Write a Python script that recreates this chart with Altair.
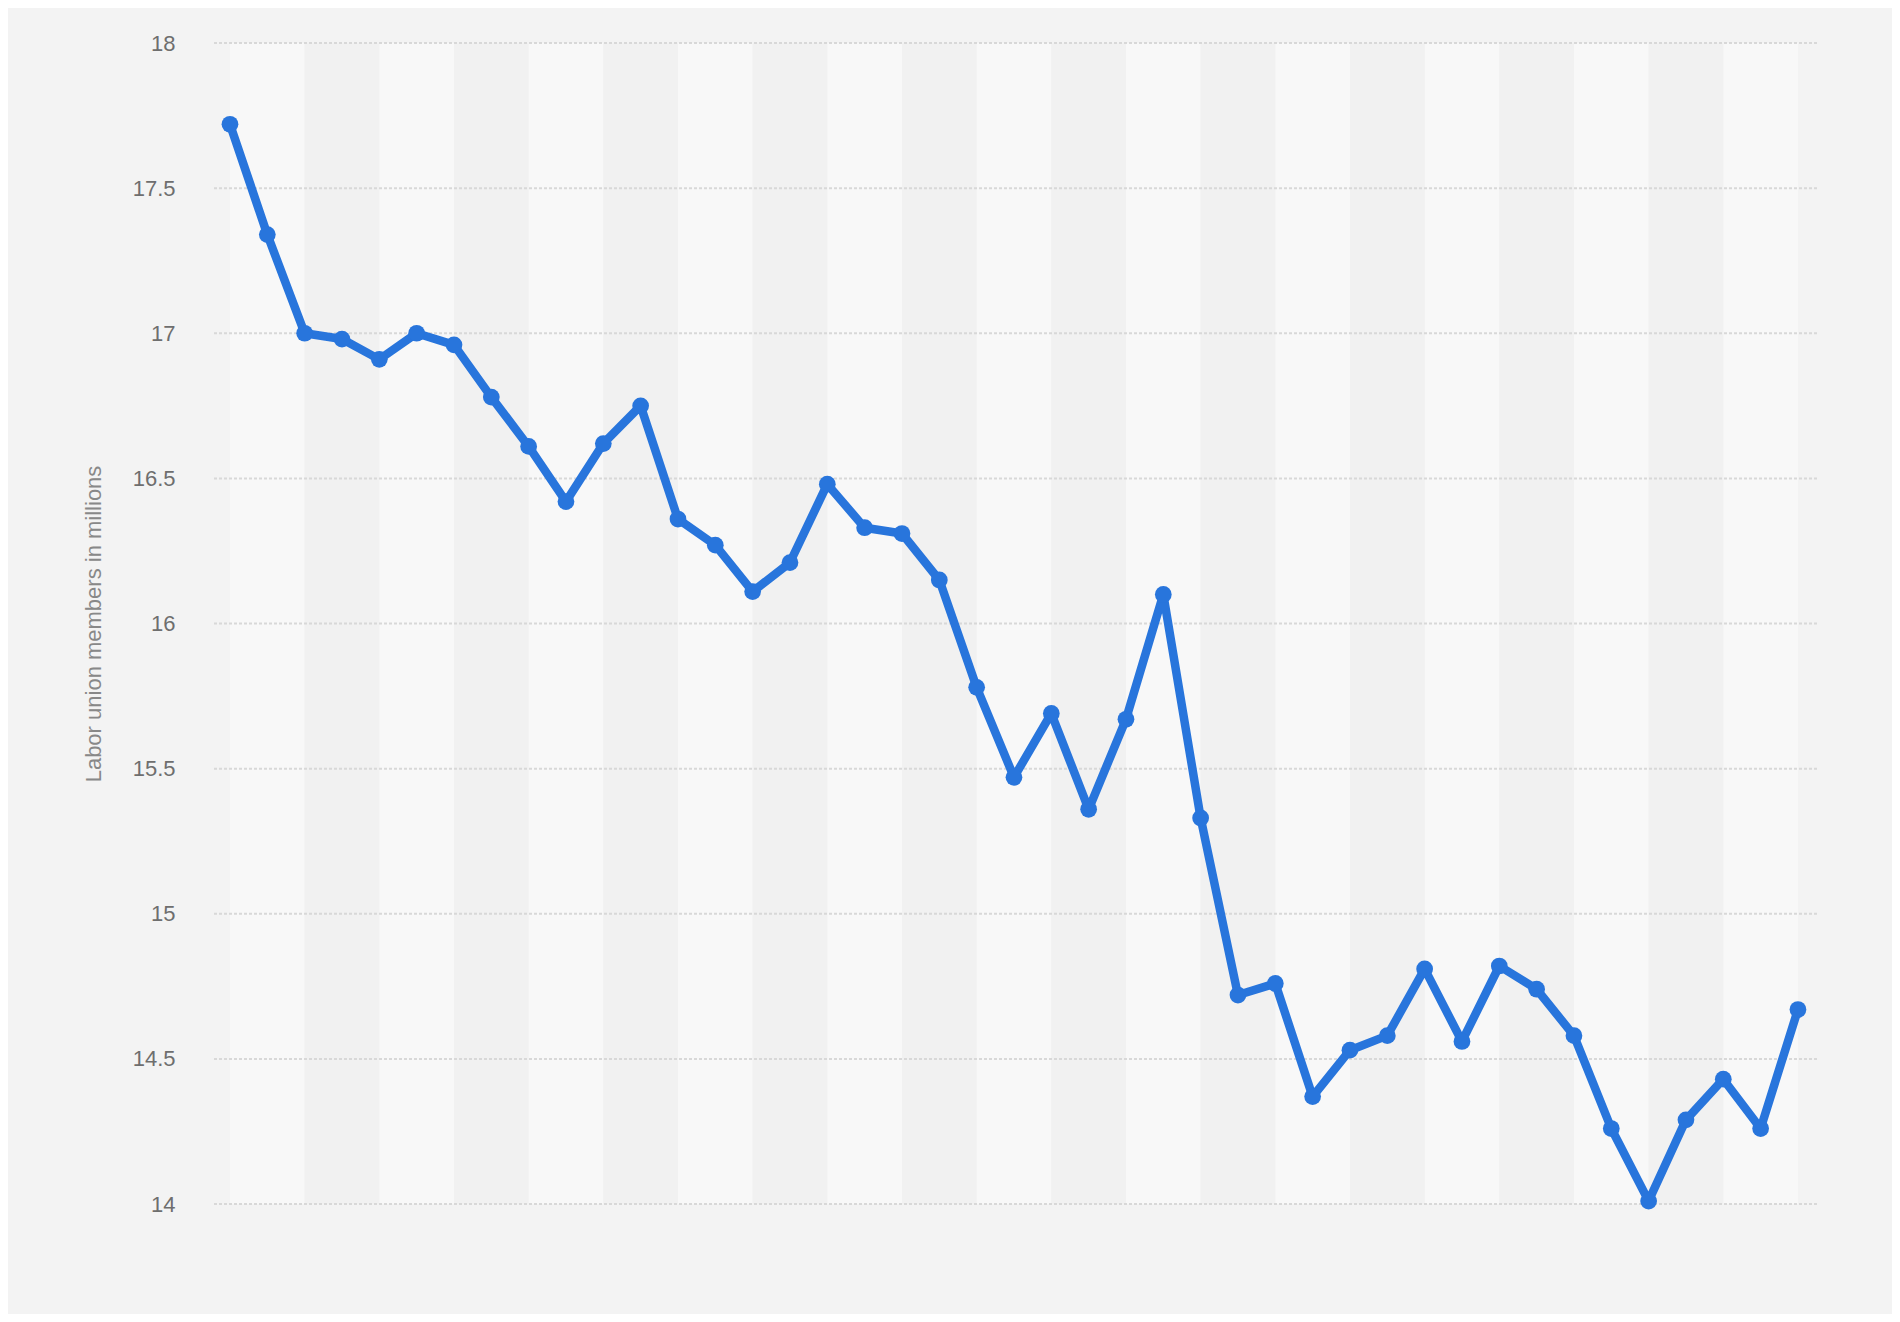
import altair as alt
import pandas as pd

years = list(range(1983, 2026))
members = [17.72, 17.34, 17.00, 16.98, 16.91, 17.00, 16.96, 16.78, 16.61, 16.42,
           16.62, 16.75, 16.36, 16.27, 16.11, 16.21, 16.48, 16.33, 16.31, 16.15,
           15.78, 15.47, 15.69, 15.36, 15.67, 16.10, 15.33, 14.72, 14.76, 14.37,
           14.53, 14.58, 14.81, 14.56, 14.82, 14.74, 14.58, 14.26, 14.01, 14.29,
           14.43, 14.26, 14.67]
y_ticks = [14, 14.5, 15, 15.5, 16, 16.5, 17, 17.5, 18]
y_title = "Labor union members in millions"

df = pd.DataFrame({"year": years, "members": members})
light = pd.DataFrame({"start": [y for y in years[::4] if y + 2 <= years[-1]]})
light["end"] = light["start"] + 2
dark = pd.DataFrame({"start": [y for y in years[2::4] if y + 2 <= years[-1]]})
dark["end"] = dark["start"] + 2
grid = pd.DataFrame({"members": y_ticks})

W, H = 1604, 1161
xs = alt.Scale(domain=[1982.545, 2025.51], nice=False, zero=False)
ys = alt.Scale(domain=[14, 18], nice=False, zero=False)

y_axis = alt.Axis(values=y_ticks, format="~g", title=y_title,
                  grid=False, domain=False, ticks=False, labelPadding=38,
                  labelFont="Liberation Sans", labelFontSize=22, labelColor="#6e6e6e",
                  titleFont="Liberation Sans", titleFontSize=22, titleColor="#888888",
                  titleFontWeight="normal", titleAngle=-90, titleX=-120, titleY=H / 2,
                  titleAlign="center", titleBaseline="middle")

band_light = alt.Chart(light).mark_rect(color="#f8f8f8").encode(
    x=alt.X("start:Q", scale=xs, axis=None), x2="end:Q",
    y=alt.value(0), y2=alt.value(H))
band_dark = alt.Chart(dark).mark_rect(color="#f1f1f1").encode(
    x=alt.X("start:Q", scale=xs, axis=None), x2="end:Q",
    y=alt.value(0), y2=alt.value(H))
grid_rules = alt.Chart(grid).mark_rule(color="#d8d8d8", strokeDash=[3, 2], strokeWidth=2).encode(
    y=alt.Y("members:Q", scale=ys, axis=y_axis, title=y_title))

base = alt.Chart(df).encode(
    x=alt.X("year:Q", scale=xs, axis=None),
    y=alt.Y("members:Q", scale=ys, axis=y_axis, title=y_title),
)
line = base.mark_line(color="#2875dc", strokeWidth=8.5, strokeJoin="round")
pts = base.mark_circle(color="#2875dc", size=280, opacity=1)

chart = alt.layer(band_light, band_dark, grid_rules, line, pts).properties(
    width=W, height=H,
    background="#f3f3f3",
    autosize=alt.AutoSizeParams(type="none"),
    padding={"left": 205, "top": 35, "right": 75, "bottom": 110},
).configure_view(stroke=None, fill=None)

chart.save("out.html", embed_options={"renderer": "svg", "actions": False})
